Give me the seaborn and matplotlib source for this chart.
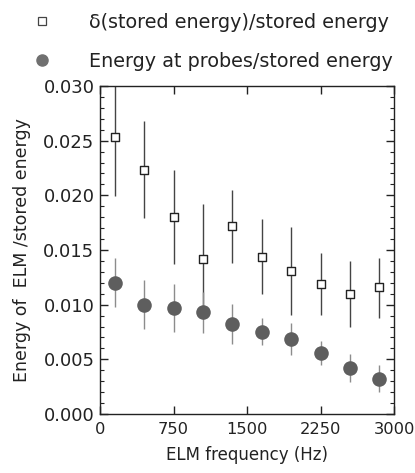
import numpy as np
import pandas as pd
import matplotlib
matplotlib.use("Agg")
import matplotlib.pyplot as plt
from matplotlib.lines import Line2D
from matplotlib.ticker import MultipleLocator, FormatStrFormatter
import seaborn as sns

# ---- data ----
freq = [150, 450, 750, 1050, 1350, 1650, 1950, 2250, 2550, 2850]
stored_ratio = [0.0253, 0.0223, 0.0180, 0.0142, 0.0172, 0.0144, 0.0131, 0.0119, 0.0110, 0.0116]
stored_lo = [0.0199, 0.0179, 0.0137, 0.0092, 0.0138, 0.0110, 0.0091, 0.0091, 0.0080, 0.0088]
stored_hi = [0.0310, 0.0268, 0.0223, 0.0192, 0.0205, 0.0178, 0.0171, 0.0147, 0.0140, 0.0143]
probe_ratio = [0.0120, 0.0100, 0.0097, 0.0093, 0.0082, 0.0075, 0.0069, 0.0056, 0.0042, 0.0032]
probe_lo = [0.0098, 0.0078, 0.0075, 0.0074, 0.0064, 0.0063, 0.0054, 0.0045, 0.0029, 0.0020]
probe_hi = [0.0143, 0.0123, 0.0119, 0.0112, 0.0101, 0.0088, 0.0083, 0.0067, 0.0055, 0.0045]
x_ticks = [0, 750, 1500, 2250, 3000]
label_stored = "δ(stored energy)/stored energy"
label_probe = "Energy at probes/stored energy"

sns.set_theme(style="ticks")
plt.rcParams['font.family'] = ['DejaVu Sans']

df = pd.DataFrame({
    "freq": freq * 2,
    "ratio": stored_ratio + probe_ratio,
    "series": [label_stored] * len(freq) + [label_probe] * len(freq),
})

fig = plt.figure(figsize=(4.15, 4.73), dpi=100)
ax = fig.add_axes([100 / 415, 59 / 473, 294 / 415, 328 / 473])

sq_bar = "#444444"
ci_bar = "#8c8c8c"
ci_col = "#5e5e5e"
txt = "#222222"

s_arr = np.array(stored_ratio)
ax.errorbar(freq, stored_ratio,
            yerr=[s_arr - np.array(stored_lo), np.array(stored_hi) - s_arr],
            fmt="none", ecolor=sq_bar, elinewidth=1.0, capsize=0, zorder=2)
p_arr = np.array(probe_ratio)
ax.errorbar(freq, probe_ratio,
            yerr=[p_arr - np.array(probe_lo), np.array(probe_hi) - p_arr],
            fmt="none", ecolor=ci_bar, elinewidth=1.0, capsize=0, zorder=2)

sns.scatterplot(data=df[df.series == label_stored], x="freq", y="ratio", ax=ax,
                marker="s", s=40, facecolor="white", edgecolor="#222222",
                linewidth=1.0, zorder=3, legend=False)
sns.scatterplot(data=df[df.series == label_probe], x="freq", y="ratio", ax=ax,
                marker="o", s=110, color=ci_col, edgecolor=ci_col,
                linewidth=0, zorder=3, legend=False)

ax.set_xlim(0, 3000)
ax.set_ylim(0, 0.030)
ax.set_xticks(x_ticks)
ax.yaxis.set_major_locator(MultipleLocator(0.005))
ax.yaxis.set_minor_locator(MultipleLocator(0.001))
ax.yaxis.set_major_formatter(FormatStrFormatter("%.3f"))
ax.tick_params(axis="both", which="major", direction="in", length=6, width=1,
               top=True, right=True, colors=txt, pad=4)
ax.tick_params(axis="y", which="major", labelsize=13)
ax.tick_params(axis="x", which="major", labelsize=11.7, pad=6)
ax.tick_params(axis="y", which="minor", direction="in", length=3, width=0.8,
               right=True, left=True, colors=txt)
for sp in ax.spines.values():
    sp.set_linewidth(1.0)
    sp.set_color(txt)

ax.set_xlabel("ELM frequency (Hz)", fontsize=12, color=txt, labelpad=6)
ax.set_ylabel("Energy of  ELM /stored energy", fontsize=12.5, color=txt, labelpad=9)

handles = [
    Line2D([], [], marker="s", linestyle="none", markersize=6, markerfacecolor="white",
           markeredgecolor="#444444", markeredgewidth=0.9),
    Line2D([], [], marker="o", linestyle="none", markersize=8, markerfacecolor="#707070",
           markeredgecolor="#707070"),
]
fig.legend(handles, [label_stored, label_probe], loc="upper left",
           bbox_to_anchor=(20 / 415, 1 - 5 / 473), frameon=False, fontsize=13.8,
           handletextpad=1.7, labelspacing=1.05, handlelength=1.5, borderaxespad=0,
           labelcolor=txt)

fig.savefig("out.png", dpi=100)
